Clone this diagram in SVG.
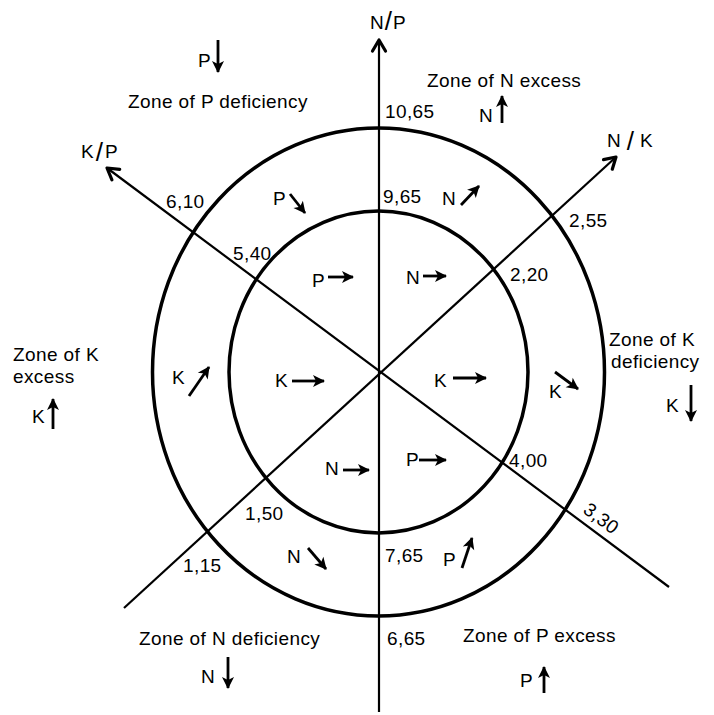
<svg xmlns="http://www.w3.org/2000/svg" width="714" height="715" viewBox="0 0 714 715">
<defs>
<style>
text{font-family:"Liberation Sans",Arial,sans-serif;font-size:19px;letter-spacing:0.4px;fill:#000}
.ring{fill:none;stroke:#000;stroke-width:3.5}
.axis{fill:none;stroke:#000;stroke-width:2.2}
.sa{fill:none;stroke:#000;stroke-width:2.8;marker-end:url(#head)}
.sl{font-size:26px}
</style>
<marker id="head" markerUnits="userSpaceOnUse" markerWidth="16" markerHeight="16" viewBox="-1 -8 16 16" refX="11" refY="0" orient="auto">
<path d="M0,-6 L12,0 L0,6 L3,0 Z" fill="#000"/>
</marker>
<marker id="axhead" markerUnits="userSpaceOnUse" markerWidth="20" markerHeight="20" viewBox="-14 -10 20 20" refX="0" refY="0" orient="auto">
<path d="M-11,-6.5 L0,0 L-11,6.5" fill="none" stroke="#000" stroke-width="3.2" stroke-linejoin="round" stroke-linecap="round"/>
</marker>
</defs>
<rect width="714" height="715" fill="#fff"/>

<g id="rings">
<ellipse id="outer-ring" class="ring" cx="378.5" cy="372" rx="226" ry="244"/>
<ellipse id="inner-ring" class="ring" cx="378.5" cy="372" rx="149.5" ry="161"/>
</g>

<g id="connectors">
<line id="axis-np" class="axis" x1="379" y1="712" x2="379" y2="40" marker-end="url(#axhead)"/>
<line id="axis-nk" class="axis" x1="124" y1="608" x2="616" y2="157" marker-end="url(#axhead)"/>
<line id="axis-kp" class="axis" x1="669" y1="587" x2="107" y2="168" marker-end="url(#axhead)"/>
</g>

<g id="axis-labels">
<text x="370" y="29" style="letter-spacing:1px">N<tspan class="sl" dy="1">/</tspan><tspan dy="-1">P</tspan></text>
<text x="607" y="147">N <tspan class="sl" dy="3">/</tspan><tspan dy="-3"> K</tspan></text>
<text x="81" y="158" style="letter-spacing:2px">K<tspan class="sl" dy="3">/</tspan><tspan dy="-3">P</tspan></text>
</g>

<g id="values">
<text x="385" y="118">10,65</text>
<text x="383" y="203">9,65</text>
<text x="569" y="227">2,55</text>
<text x="510" y="281">2,20</text>
<text x="166" y="208">6,10</text>
<text x="233" y="260">5,40</text>
<text x="509" y="467">4,00</text>
<text transform="translate(582,512) rotate(37)">3,30</text>
<text x="245" y="520">1,50</text>
<text x="183" y="572">1,15</text>
<text x="385" y="562">7,65</text>
<text x="387" y="645">6,65</text>
</g>

<g id="zone-p-deficiency">
<text x="198" y="67">P</text>
<line class="sa" x1="218" y1="40" x2="218" y2="72"/>
<text x="128" y="108">Zone of P deficiency</text>
</g>
<g id="zone-n-excess">
<text x="427" y="87">Zone of N excess</text>
<text x="479" y="122">N</text>
<line class="sa" x1="502" y1="123" x2="502" y2="96"/>
</g>
<g id="zone-k-excess">
<text x="13" y="361">Zone of K</text>
<text x="13" y="383">excess</text>
<text x="32" y="423">K</text>
<line class="sa" x1="53" y1="429" x2="53" y2="399"/>
</g>
<g id="zone-k-deficiency">
<text x="609" y="346">Zone of K</text>
<text x="611" y="368">deficiency</text>
<text x="666" y="412">K</text>
<line class="sa" x1="691" y1="385" x2="691" y2="421"/>
</g>
<g id="zone-n-deficiency">
<text x="139" y="645">Zone of N deficiency</text>
<text x="201" y="683">N</text>
<line class="sa" x1="228" y1="657" x2="228" y2="688"/>
</g>
<g id="zone-p-excess">
<text x="463" y="642">Zone of P excess</text>
<text x="520" y="687">P</text>
<line class="sa" x1="544" y1="693" x2="544" y2="667"/>
</g>

<g id="outer-ring-labels">
<g id="outer-p-ul"><text x="273" y="205">P</text><line class="sa" x1="290" y1="194" x2="305" y2="213"/></g>
<g id="outer-n-ur"><text x="442" y="205">N</text><line class="sa" x1="461" y1="205" x2="479" y2="186"/></g>
<g id="outer-k-l"><text x="172" y="384">K</text><line class="sa" x1="189" y1="396" x2="209" y2="367"/></g>
<g id="outer-k-r"><text x="549" y="398">K</text><line class="sa" x1="555" y1="372" x2="578" y2="389"/></g>
<g id="outer-n-ll"><text x="287" y="563">N</text><line class="sa" x1="308" y1="548" x2="326" y2="569"/></g>
<g id="outer-p-lr"><text x="443" y="566">P</text><line class="sa" x1="462" y1="568" x2="472" y2="538"/></g>
</g>

<g id="inner-ring-labels">
<g id="inner-p-top"><text x="312" y="287">P</text><line class="sa" x1="328" y1="277" x2="353" y2="277"/></g>
<g id="inner-n-top"><text x="406" y="284">N</text><line class="sa" x1="423" y1="276" x2="446" y2="276"/></g>
<g id="inner-k-left"><text x="275" y="387">K</text><line class="sa" x1="292" y1="381" x2="324" y2="381"/></g>
<g id="inner-k-right"><text x="434" y="387">K</text><line class="sa" x1="453" y1="378" x2="486" y2="378"/></g>
<g id="inner-n-bottom"><text x="325" y="475">N</text><line class="sa" x1="343" y1="470" x2="369" y2="470"/></g>
<g id="inner-p-bottom"><text x="406" y="466">P</text><line class="sa" x1="419" y1="460" x2="446" y2="460"/></g>
</g>
</svg>
